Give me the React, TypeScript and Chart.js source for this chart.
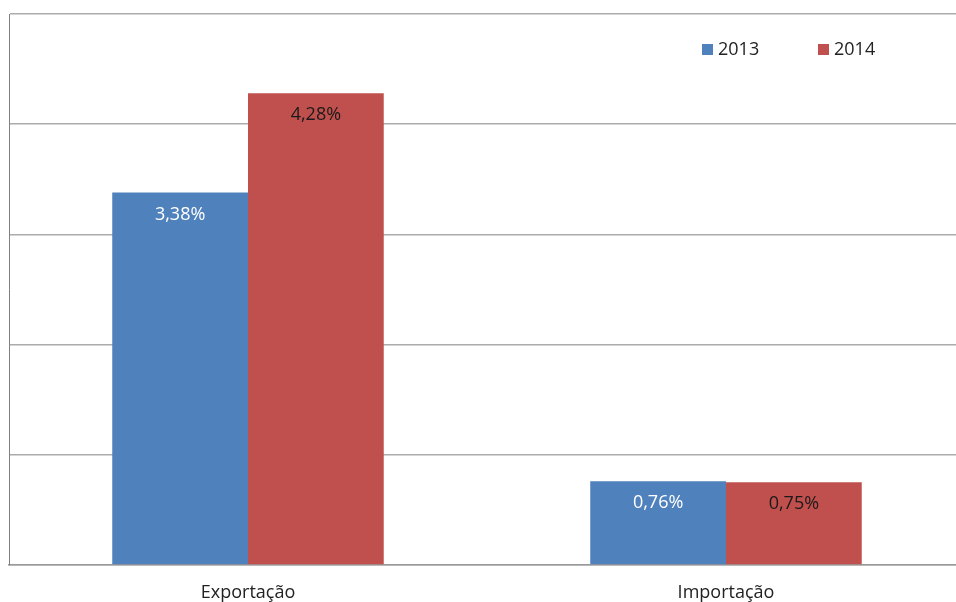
import React, { useEffect, useRef } from "react";
import { Chart, registerables } from "chart.js";

Chart.register(...registerables);

const categories = ["Exportação", "Importação"];
const seriesNames = ["2013", "2014"];
const values2013 = [3.38, 0.76];
const values2014 = [4.28, 0.75];
const seriesColors = ["#4F81BD", "#C0504D"];
const labelColors = ["#ffffff", "#1a1a1a"];
const yTicks = [0, 1, 2, 3, 4, 5];

const FONT = '"Open Sans", "DejaVu Sans", sans-serif';

const fmt = (v: number) => v.toFixed(2).replace(".", ",") + "%";

const valueLabelPlugin = {
  id: "valueLabels",
  afterDatasetsDraw(chart: any) {
    const ctx = chart.ctx;
    ctx.save();
    ctx.font = `18px ${FONT}`;
    ctx.textAlign = "center";
    ctx.textBaseline = "middle";
    chart.data.datasets.forEach((ds: any, di: number) => {
      const meta = chart.getDatasetMeta(di);
      meta.data.forEach((el: any, i: number) => {
        ctx.fillStyle = labelColors[di];
        ctx.fillText(fmt(ds.data[i]), el.x, el.y + 22);
      });
    });
    ctx.restore();
  },
};

const legendPlugin = {
  id: "insideLegend",
  afterDraw(chart: any) {
    const ctx = chart.ctx;
    const xs = [702, 818];
    ctx.save();
    ctx.font = `18px ${FONT}`;
    ctx.textBaseline = "middle";
    ctx.textAlign = "left";
    chart.data.datasets.forEach((ds: any, di: number) => {
      const x = xs[di];
      ctx.fillStyle = ds.backgroundColor;
      ctx.fillRect(x, 44, 11, 11);
      ctx.fillStyle = "#222222";
      ctx.fillText(ds.label, x + 16, 50);
    });
    ctx.restore();
  },
};

export default function App() {
  const ref = useRef<HTMLCanvasElement>(null);
  useEffect(() => {
    if (!ref.current) return;
    const chart = new Chart(ref.current, {
      type: "bar",
      data: {
        labels: categories,
        datasets: [
          {
            label: seriesNames[0],
            data: values2013,
            backgroundColor: seriesColors[0],
            borderWidth: 0,
            categoryPercentage: 0.568,
            barPercentage: 1,
          },
          {
            label: seriesNames[1],
            data: values2014,
            backgroundColor: seriesColors[1],
            borderWidth: 0,
            categoryPercentage: 0.568,
            barPercentage: 1,
          },
        ],
      },
      options: {
        animation: false,
        responsive: false,
        maintainAspectRatio: false,
        layout: { padding: { left: 9, top: 14, right: 0, bottom: 0 } },
        plugins: {
          legend: { display: false },
          tooltip: { enabled: false },
        },
        scales: {
          x: {
            grid: { display: false, drawTicks: false },
            border: { display: true, color: "#9a9a9a", width: 1.5 },
            ticks: {
              color: "#222222",
              font: { family: FONT, size: 18 },
              padding: 17,
            },
            afterFit(scale: any) {
              scale.height = 37;
            },
          },
          y: {
            min: yTicks[0],
            max: yTicks[yTicks.length - 1],
            afterBuildTicks(scale: any) {
              scale.ticks = yTicks.map((v) => ({ value: v }));
            },
            ticks: { display: false },
            grid: { color: "#acacac", lineWidth: 1.5, drawTicks: false },
            border: { display: true, color: "#808080", width: 1 },
          },
        },
      },
      plugins: [valueLabelPlugin, legendPlugin],
    });
    return () => chart.destroy();
  }, []);

  return (
    <div
      style={{
        position: "fixed",
        left: 0,
        top: 0,
        width: 956,
        height: 602,
        overflow: "hidden",
        background: "#ffffff",
      }}
    >
      <canvas ref={ref} width={965} height={602} style={{ display: "block" }} />
    </div>
  );
}
